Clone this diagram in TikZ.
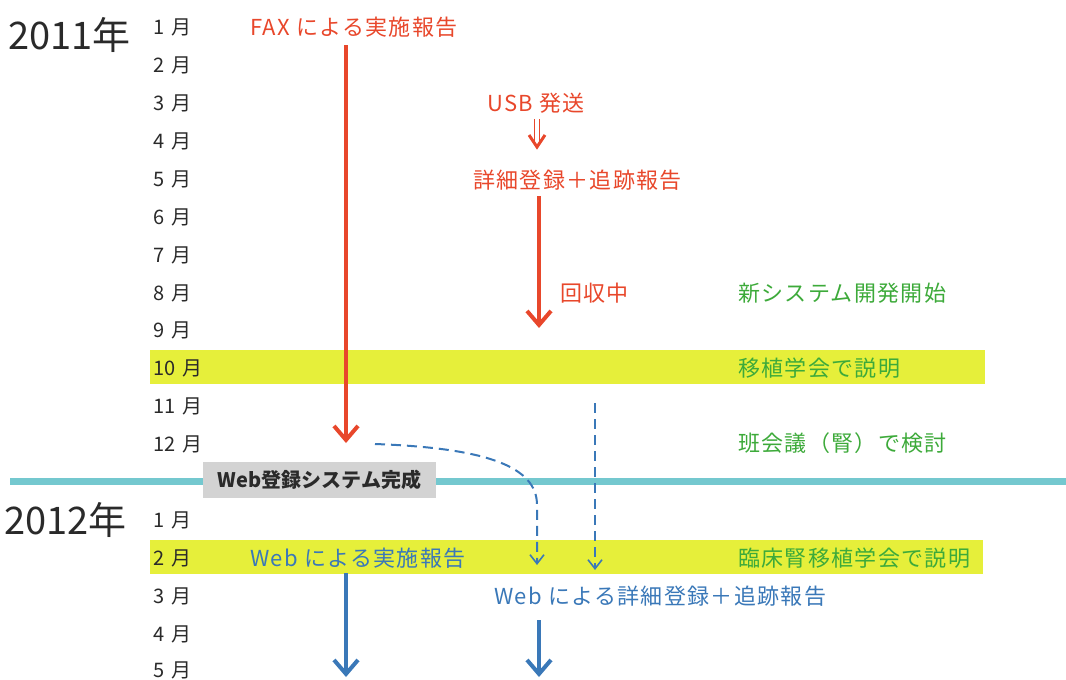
\documentclass[tikz,border=0pt]{standalone}
\usepackage{fontspec}
\usetikzlibrary{arrows.meta}
\newfontfamily\jp[LetterSpace=6]{Noto Sans CJK JP}
\newfontfamily\jpm{Noto Sans CJK JP}
\definecolor{cred}{HTML}{E8472B}
\definecolor{cgreen}{HTML}{3DAA3A}
\definecolor{cblue}{HTML}{3A78B8}
\definecolor{cyel}{HTML}{E6EF3A}
\definecolor{cteal}{HTML}{74C8CF}
\definecolor{cgray}{HTML}{D3D3D3}
\definecolor{ctext}{HTML}{2A2A2A}
\tikzset{
  month/.style={anchor=west,inner sep=0pt,text=ctext,font=\jpm\fontsize{20}{22}\selectfont},
  year/.style={anchor=west,inner sep=0pt,text=ctext,font=\jpm\fontsize{38}{40}\selectfont},
  lab/.style={anchor=west,inner sep=0pt,font=\jp\fontsize{22}{24}\selectfont},
  redlab/.style={lab,text=cred},
  greenlab/.style={lab,text=cgreen},
  bluelab/.style={lab,text=cblue},
  bigarrow/.style={line width=4pt,-{Straight Barb[length=14pt,width=24pt,line width=4pt]}},
  dasharrow/.style={cblue,line width=2pt,dash pattern=on 10pt off 6pt,-{Straight Barb[length=9pt,width=14pt,line width=1.6pt]}},
}
\newcommand{\mon}[1]{#1\hspace{7pt}月}
\begin{document}
\begin{tikzpicture}[x=1pt,y=-1pt]
\useasboundingbox (0,0) rectangle (1066,680);
% highlight bars
\fill[cyel] (150,350) rectangle (985,384);
\fill[cyel] (150,540) rectangle (983,574);
% year separator
\draw[cteal,line width=7pt] (10,481) -- (1066,481);
% years
\node[year] (y2011) at (8,35) {2011年};
\node[year] (y2012) at (4,520) {2012年};
% months
\foreach \m/\yy in {1/27,2/65,3/103,4/141,5/179,6/217,7/255,8/293,9/330,10/368,11/406,12/444}
  \node[month] (a\m) at (153,\yy) {\mon{\m}};
\foreach \m/\yy in {1/520,2/558,3/596,4/634,5/670}
  \node[month] (b\m) at (153,\yy) {\mon{\m}};
% red labels
\node[redlab] (fax) at (250,27) {FAX による実施報告};
\node[redlab] (usb) at (487,103) {USB 発送};
\node[redlab] (det) at (473,180) {詳細登録＋追跡報告};
\node[redlab] (kai) at (560,293) {回収中};
% green labels
\node[greenlab] (g1) at (738,293) {新システム開発開始};
\node[greenlab] (g2) at (738,368) {移植学会で説明};
\node[greenlab] (g3) at (738,443) {班会議（腎）で検討};
\node[greenlab] (g4) at (738,558) {臨床腎移植学会で説明};
% blue labels
\node[bluelab] (wj) at (250,558) {Web による実施報告};
\node[bluelab] (wd) at (494,596) {Web による詳細登録＋追跡報告};
% gray box
\node[fill=cgray,minimum width=233pt,minimum height=36pt,inner sep=0pt,text=ctext,
      font=\jpm\bfseries\fontsize{20}{22}\selectfont] (web) at (319.5,480) {Web登録システム完成};
% coordinates
\coordinate (faxs) at (346,45);
\coordinate (faxe) at (346,443);
\coordinate (dets) at (539,196);
\coordinate (dete) at (539,328);
\coordinate (ds1) at (375,444);
\coordinate (de1) at (537,565);
\coordinate (ds2) at (595,403);
\coordinate (de2) at (595,570);
\coordinate (bs1) at (346,573);
\coordinate (be1) at (346,677);
\coordinate (bs2) at (539,620);
\coordinate (be2) at (539,677);
% red arrows
\draw[cred,bigarrow] (faxs) -- (faxe);
\draw[cred,bigarrow] (dets) -- (dete);
% USB double arrow
\coordinate (us) at (537,119);
\coordinate (ue) at (537,147);
\draw[cred,line width=1.3pt] ([xshift=-2.6pt]us) -- ([xshift=-2.6pt,yshift=5pt]ue);
\draw[cred,line width=1.3pt] ([xshift=2.6pt]us) -- ([xshift=2.6pt,yshift=5pt]ue);
\draw[cred,line width=3pt,line join=miter] ([xshift=-8pt,yshift=12pt]ue) -- (ue) -- ([xshift=8pt,yshift=12pt]ue);
% dashed arrows
\draw[dasharrow] (ds1) .. controls (485,448) and (537,466) .. (537,505) -- (de1);
\draw[dasharrow] (ds2) -- (de2);
% blue arrows
\draw[cblue,bigarrow] (bs1) -- (be1);
\draw[cblue,bigarrow] (bs2) -- (be2);
\end{tikzpicture}
\end{document}
